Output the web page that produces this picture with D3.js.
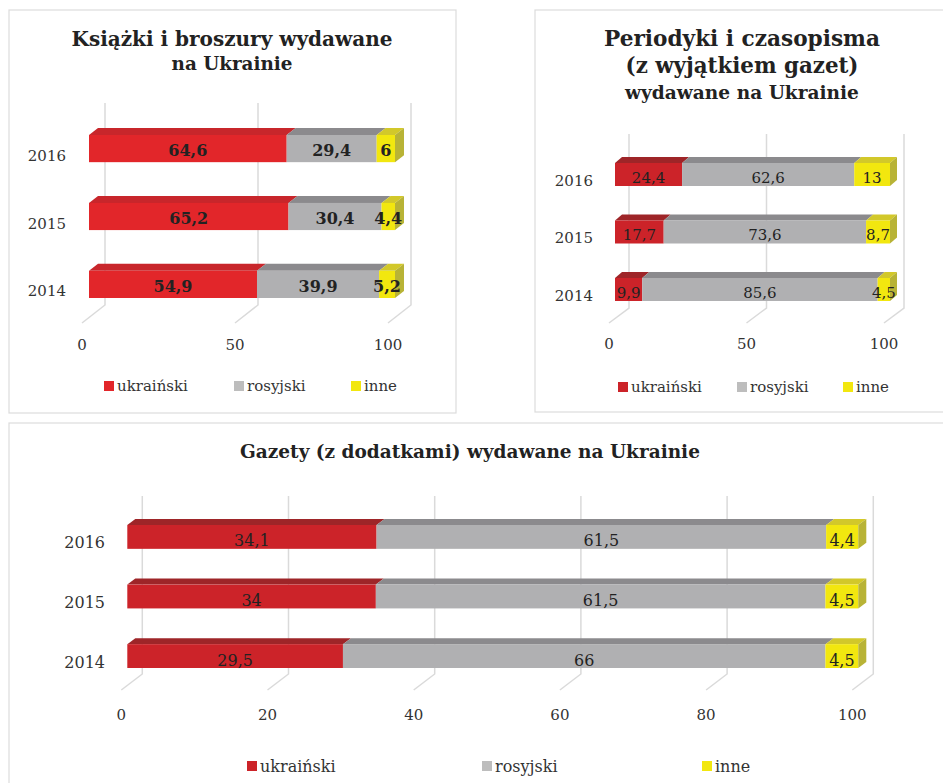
<!DOCTYPE html>
<html><head><meta charset="utf-8">
<script src="https://cdn.jsdelivr.net/npm/d3@7"></script>
<style>body{margin:0;background:#fff}svg{display:block}</style>
</head><body>
<svg id="c" width="943" height="783"></svg>
<script>
// ---- data ----
const years = ["2016", "2015", "2014"];
const seriesNames = ["ukraiński", "rosyjski", "inne"];
const booksUk = [64.6, 65.2, 54.9];
const booksRu = [29.4, 30.4, 39.9];
const booksOther = [6, 4.4, 5.2];
const periodUk = [24.4, 17.7, 9.9];
const periodRu = [62.6, 73.6, 85.6];
const periodOther = [13, 8.7, 4.5];
const newsUk = [34.1, 34, 29.5];
const newsRu = [61.5, 61.5, 66];
const newsOther = [4.4, 4.5, 4.5];
const ticksSmall = [0, 50, 100];
const ticksBig = [0, 20, 40, 60, 80, 100];
const booksLabels = [["64,6","29,4","6"],["65,2","30,4","4,4"],["54,9","39,9","5,2"]];
const periodLabels = [["24,4","62,6","13"],["17,7","73,6","8,7"],["9,9","85,6","4,5"]];
const newsLabels = [["34,1","61,5","4,4"],["34","61,5","4,5"],["29,5","66","4,5"]];

const FONT = "'DejaVu Serif', Georgia, serif";
const svg = d3.select("#c");

function fitText(t, w) {
  const fs = parseFloat(t.attr("font-size"));
  const l = t.node().getComputedTextLength();
  t.attr("font-size", fs * w / l);
}

function panel(cfg) {
  const g = svg.append("g");
  g.append("rect").attr("x", cfg.box[0]).attr("y", cfg.box[1])
    .attr("width", cfg.box[2]).attr("height", cfg.box[3])
    .attr("fill", "#fff").attr("stroke", "#dcdcdc").attr("stroke-width", 1.2);

  cfg.titles.forEach(tt => {
    const t = g.append("text").attr("x", tt.x).attr("y", tt.y)
      .attr("text-anchor", "middle").attr("font-family", FONT)
      .attr("font-weight", "bold").attr("font-size", 20).attr("fill", "#222")
      .text(tt.text);
    fitText(t, tt.w);
  });

  const rows = years.map((y, i) => ({year: y, uk: cfg.uk[i], ru: cfg.ru[i], other: cfg.other[i], i}));
  const stack = d3.stack().keys(["uk", "ru", "other"])(rows);

  const xFront = d3.scaleLinear().domain([0, 100]).range([cfg.x0, cfg.x0 + cfg.w]);
  const xWall = d3.scaleLinear().domain([0, 100]).range([cfg.x0 + cfg.wallOff, cfg.x0 + cfg.wallOff + cfg.w]);
  const xFloor = d3.scaleLinear().domain([0, 100]).range([cfg.x0 + cfg.floorOff, cfg.x0 + cfg.floorOff + cfg.w]);
  const yb = d3.scaleBand().domain(years).range([cfg.yTop, cfg.yBot]).paddingInner(0.6).paddingOuter(0);

  // walls / gridlines
  cfg.ticks.forEach(v => {
    g.append("path")
      .attr("d", `M${xWall(v)},${cfg.wallTop}L${xWall(v)},${cfg.wallBot}L${xFloor(v)},${cfg.floorY}`)
      .attr("fill", "none").attr("stroke", "#dadada").attr("stroke-width", 1.5);
    g.append("text").attr("x", xFloor(v)).attr("y", cfg.tickY)
      .attr("text-anchor", "middle").attr("dominant-baseline", "central")
      .attr("font-family", FONT).attr("font-size", cfg.tickFs).attr("fill", "#333").text(v);
  });

  const fronts = [cfg.red, "#b0b0b2", "#f2e70f"];
  const tops = [cfg.redTop, "#8b8a8d", "#d2c82a"];
  const dx = cfg.dx, dy = cfg.dy;
  stack.forEach((s, k) => {
    s.forEach(d => {
      const x1 = xFront(d[0]), x2 = xFront(d[1]);
      const y1 = yb(d.data.year), h = yb.bandwidth();
      g.append("path")
        .attr("d", `M${x1},${y1}L${x2},${y1}L${x2 + dx},${y1 - dy}L${x1 + dx},${y1 - dy}Z`)
        .attr("fill", tops[k]);
      g.append("rect").attr("x", x1).attr("y", y1).attr("width", x2 - x1).attr("height", h)
        .attr("fill", fronts[k]);
      if (k === 2) {
        g.append("path")
          .attr("d", `M${x2},${y1}L${x2 + dx},${y1 - dy}L${x2 + dx},${y1 + h - dy}L${x2},${y1 + h}Z`)
          .attr("fill", "#b8b336");
      }
    });
  });
  stack.forEach((s, k) => {
    s.forEach(d => {
      const x1 = xFront(d[0]), x2 = xFront(d[1]);
      const y1 = yb(d.data.year), h = yb.bandwidth();
      g.append("text").attr("x", (x1 + x2) / 2).attr("y", y1 + h / 2 + cfg.labOff)
        .attr("text-anchor", "middle").attr("dominant-baseline", "central")
        .attr("font-family", FONT).attr("font-size", cfg.valFs)
        .attr("font-weight", cfg.valBold ? "bold" : "normal").attr("fill", "#222")
        .text(cfg.labels[d.data.i][k]);
    });
  });

  // year labels
  years.forEach(y => {
    g.append("text").attr("x", cfg.yearX).attr("y", yb(y) + yb.bandwidth() / 2 + cfg.yearOff)
      .attr("text-anchor", "end").attr("dominant-baseline", "central")
      .attr("font-family", FONT).attr("font-size", cfg.yearFs).attr("fill", "#333").text(y);
  });

  // legend
  const lc = [cfg.legRed, "#bdbdbd", "#f2e70f"];
  seriesNames.forEach((n, k) => {
    const lx = cfg.legX[k];
    g.append("rect").attr("x", lx).attr("y", cfg.legY - 5).attr("width", 10).attr("height", 10).attr("fill", lc[k]);
    g.append("text").attr("x", lx + 13).attr("y", cfg.legY).attr("dominant-baseline", "central")
      .attr("font-family", FONT).attr("font-size", cfg.legFs).attr("fill", "#333").text(n);
  });
}

panel({
  box: [9, 10, 447, 403],
  titles: [{text: "Książki i broszury wydawane", x: 232, y: 46, w: 321},
           {text: "na Ukrainie", x: 232, y: 70, w: 121}],
  uk: booksUk, ru: booksRu, other: booksOther, labels: booksLabels,
  x0: 89, w: 306, wallOff: 16, floorOff: -7,
  yTop: 135, yBot: 298, dx: 9, dy: 7,
  wallTop: 103, wallBot: 305, floorY: 323,
  ticks: ticksSmall, tickY: 345, tickFs: 15,
  red: "#e2262a", redTop: "#c8262b", legRed: "#e2262a",
  valFs: 16, valBold: true, labOff: 2,
  yearX: 66, yearOff: 7, yearFs: 15,
  legX: [104, 234, 351], legY: 386, legFs: 15
});

panel({
  box: [535, 10, 420, 402],
  titles: [{text: "Periodyki i czasopisma", x: 742, y: 46, w: 276},
           {text: "(z wyjątkiem gazet)", x: 742, y: 73, w: 233},
           {text: "wydawane na Ukrainie", x: 742, y: 99, w: 234}],
  uk: periodUk, ru: periodRu, other: periodOther, labels: periodLabels,
  x0: 615, w: 275, wallOff: 14, floorOff: -6,
  yTop: 163, yBot: 301, dx: 7, dy: 6,
  wallTop: 134, wallBot: 308, floorY: 323,
  ticks: ticksSmall, tickY: 344, tickFs: 15,
  red: "#cc2329", redTop: "#9e2528", legRed: "#cc2329",
  valFs: 15, valBold: false, labOff: 3,
  yearX: 593, yearOff: 6, yearFs: 15,
  legX: [618, 737, 843], legY: 387, legFs: 15
});

panel({
  box: [9, 423, 950, 370],
  titles: [{text: "Gazety (z dodatkami) wydawane na Ukrainie", x: 470, y: 458, w: 460}],
  uk: newsUk, ru: newsRu, other: newsOther, labels: newsLabels,
  x0: 127.3, w: 731, wallOff: 15, floorOff: -6,
  yTop: 525, yBot: 668, dx: 8, dy: 6,
  wallTop: 496, wallBot: 674, floorY: 690,
  ticks: ticksBig, tickY: 715, tickFs: 15,
  red: "#cc2329", redTop: "#9e2528", legRed: "#cc2329",
  valFs: 16, valBold: false, labOff: 4,
  yearX: 105, yearOff: 6, yearFs: 16,
  legX: [247, 482, 702], legY: 766, legFs: 16
});
</script>
</body></html>
